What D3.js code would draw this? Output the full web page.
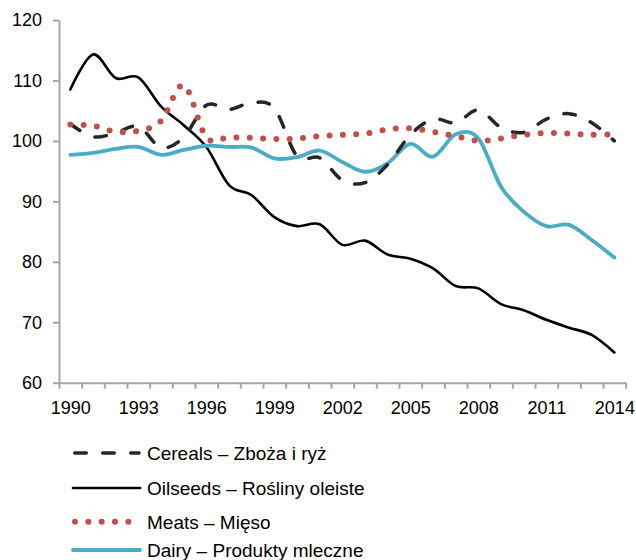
<!DOCTYPE html>
<html>
<head>
<meta charset="utf-8">
<script src="https://cdn.jsdelivr.net/npm/d3@7"></script>
<style>
  html, body { margin: 0; padding: 0; background: #fff; }
  svg { display: block; font-family: "Liberation Sans", Arial, sans-serif; }
</style>
</head>
<body>
<svg id="chart" width="636" height="560"></svg>
<script>
const years = d3.range(1990, 2015);
const xTickLabels = [1990, 1993, 1996, 1999, 2002, 2005, 2008, 2011, 2014];
const yTicks = [60, 70, 80, 90, 100, 110, 120];

const cereals = [102.8, 100.7, 101.3, 102.4, 98.9, 100.6, 105.9, 105.2, 106.3, 105.4, 97.5, 97.2, 93.5, 93.1, 96.1, 101.0, 103.6, 103.0, 105.1, 102.2, 101.4, 103.6, 104.5, 103.0, 100.0];
const oilseeds = [108.5, 114.3, 110.4, 110.5, 105.7, 102.6, 99.0, 92.7, 91.0, 87.4, 85.9, 86.2, 82.8, 83.5, 81.2, 80.5, 78.9, 76.0, 75.6, 73.0, 72.0, 70.4, 69.1, 67.9, 65.0];
const meats = [102.7, 102.5, 101.5, 101.7, 103.3, 109.2, 100.6, 100.6, 100.5, 100.3, 100.4, 100.8, 101.0, 101.2, 101.9, 102.1, 101.5, 100.8, 100.0, 100.4, 101.0, 101.3, 101.2, 101.0, 101.1];
const dairy = [97.7, 98.0, 98.7, 99.0, 97.7, 98.5, 99.2, 99.0, 98.9, 97.1, 97.3, 98.4, 96.5, 94.9, 96.3, 99.5, 97.4, 101.1, 100.4, 92.4, 88.3, 85.9, 86.1, 83.6, 80.7];

const seriesNames = ["Cereals – Zboża i ryż", "Oilseeds – Rośliny oleiste", "Meats – Mięso", "Dairy – Produkty mleczne"];

const styles = [
  { color: "#262626", width: 3.5, dash: "11.5,16.5", cap: "round" },
  { color: "#000000", width: 2.6, dash: null, cap: "round" },
  { color: "#c0504d", width: 6, dash: "0,13.33", cap: "round" },
  { color: "#4bacc6", width: 3.8, dash: null, cap: "round" }
];

const svg = d3.select("#chart");
const x = d3.scaleLinear().domain([1989.5, 2014.5]).range([59, 625.7]);
const y = d3.scaleLinear().domain([60, 120]).range([382.7, 20]);
const axisColor = "#a6a6a6";
const font = "'Liberation Sans', Arial, sans-serif";

// Y axis
const gy = svg.append("g").attr("transform", `translate(${x.range()[0]},0)`)
  .call(d3.axisLeft(y).tickValues(yTicks).tickSize(6).tickPadding(11).tickSizeOuter(0));
gy.select(".domain").attr("stroke", axisColor).attr("stroke-width", 2);
gy.selectAll(".tick line").attr("stroke", axisColor).attr("stroke-width", 2);
gy.selectAll(".tick text").attr("fill", "#000").style("font-size", "18px").style("font-family", font);

// X axis: tick marks at year boundaries
const edges = d3.range(1989.5, 2015, 1);
const gx = svg.append("g").attr("transform", `translate(0,${y(60)})`)
  .call(d3.axisBottom(x).tickValues(edges).tickSize(6).tickSizeOuter(0).tickFormat(""));
gx.select(".domain").attr("stroke", axisColor).attr("stroke-width", 2);
gx.selectAll(".tick line").attr("stroke", axisColor).attr("stroke-width", 2);

// X axis labels at category centres
const gxl = svg.append("g").attr("transform", `translate(0,${y(60)})`)
  .call(d3.axisBottom(x).tickValues(xTickLabels).tickSize(0).tickPadding(19).tickFormat(d3.format("d")));
gxl.select(".domain").remove();
gxl.selectAll(".tick text").attr("fill", "#000").style("font-size", "18px").style("font-family", font);

// Lines
const line = d3.line().x((d, i) => x(years[i])).y(d => y(d)).curve(d3.curveCardinal.tension(0));
const allSeries = [cereals, oilseeds, meats, dairy];
const drawOrder = [1, 3, 0, 2];
drawOrder.forEach(k => {
  const s = styles[k];
  const p = svg.append("path").datum(allSeries[k]).attr("d", line)
    .attr("fill", "none").attr("stroke", s.color).attr("stroke-width", s.width)
    .attr("stroke-linecap", s.cap).attr("stroke-linejoin", "round");
  if (s.dash) p.attr("stroke-dasharray", s.dash);
});

// Legend
const legendY = [453, 488, 521.7, 550];
const legendX = [[74.75, 139], [73, 140], [75, 128.4], [73, 140]];
const lg = svg.append("g");
seriesNames.forEach((name, k) => {
  const s = styles[k];
  const l = lg.append("line").attr("x1", legendX[k][0]).attr("x2", legendX[k][1])
    .attr("y1", legendY[k]).attr("y2", legendY[k])
    .attr("stroke", s.color).attr("stroke-width", s.width).attr("stroke-linecap", s.cap);
  if (s.dash) l.attr("stroke-dasharray", s.dash);
  lg.append("text").attr("x", 147).attr("y", legendY[k]).attr("dy", "0.36em")
    .attr("fill", "#000").style("font-size", "19px").style("font-family", font).text(name);
});
</script>
</body>
</html>
